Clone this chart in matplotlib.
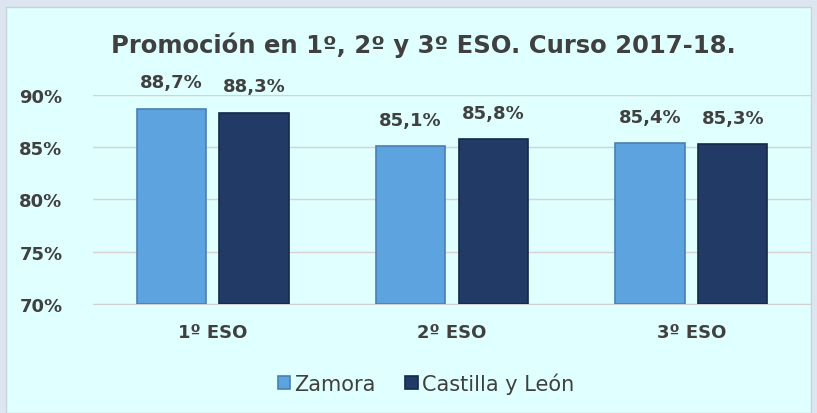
import numpy as np
import matplotlib
matplotlib.use("Agg")
import matplotlib.pyplot as plt
from matplotlib.patches import Rectangle

# Data
categories = ["1º ESO", "2º ESO", "3º ESO"]
zamora = [88.7, 85.1, 85.4]
castilla = [88.3, 85.8, 85.3]
series_names = ["Zamora", "Castilla y León"]
y_ticks = [70, 75, 80, 85, 90]

text_color = "#404040"
colors = ["#5DA3E0", "#213A66"]
edges = ["#4A80B4", "#16294A"]

plt.rcParams['font.family'] = ['DejaVu Sans']

fig = plt.figure(figsize=(8.17, 4.14), dpi=100)
fig.patch.set_facecolor("#DDE6F0")
# inner chart panel
fig.patches.append(Rectangle((6 / 817, 0), 805 / 817, 1 - 8 / 414, transform=fig.transFigure,
                             facecolor="#E0FFFF", edgecolor="#C8D2DC", linewidth=1, zorder=-1))

ax = fig.add_axes([93 / 817, 1 - 305 / 414, 718 / 817, 209 / 414])
ax.set_facecolor("none")
ax.set_zorder(2)

x = np.arange(len(categories))
w = 0.29
off = 0.173
for i, (vals, name) in enumerate(zip([zamora, castilla], series_names)):
    pos = x + (off if i else -off)
    bars = ax.bar(pos, np.array(vals) - 70, w, bottom=70, color=colors[i], edgecolor=edges[i],
                  linewidth=1.2, label=name, zorder=3)
    for b, v in zip(bars, vals):
        ax.annotate(f"{v:.1f}%".replace(".", ","), (b.get_x() + b.get_width() / 2, v),
                    xytext=(0, 19), textcoords="offset points", ha="center", va="center",
                    fontsize=13, color=text_color, fontweight="bold")

ax.set_ylim(70, 90)
ax.set_xlim(-0.5, 2.5)
ax.set_yticks(y_ticks)
ax.set_yticklabels([f"{t}%" for t in y_ticks])
ax.set_xticks(x)
ax.set_xticklabels(categories)
ax.grid(axis="y", color="#D9D0D0", linewidth=1, zorder=0)
for s in ["top", "right", "left"]:
    ax.spines[s].set_visible(False)
ax.spines["bottom"].set_color("#D0D0D0")
ax.tick_params(axis="both", length=0, labelsize=13, labelcolor=text_color)
ax.tick_params(axis="y", pad=22)
ax.tick_params(axis="x", pad=14)
for lab in ax.get_xticklabels() + ax.get_yticklabels():
    lab.set_fontweight("bold")

fig.text(423 / 817, 1 - 45 / 414, "Promoción en 1º, 2º y 3º ESO. Curso 2017-18.",
         ha="center", va="center", fontsize=17.5, fontweight="bold", color=text_color)

leg = fig.legend(loc="center", bbox_to_anchor=(426 / 817, 1 - 384 / 414), ncol=2, frameon=False,
                 fontsize=15, handlelength=0.6, handleheight=0.6, handletextpad=0.2,
                 columnspacing=1.4, labelcolor=text_color)

fig.savefig("out.png", dpi=100, facecolor=fig.get_facecolor())
